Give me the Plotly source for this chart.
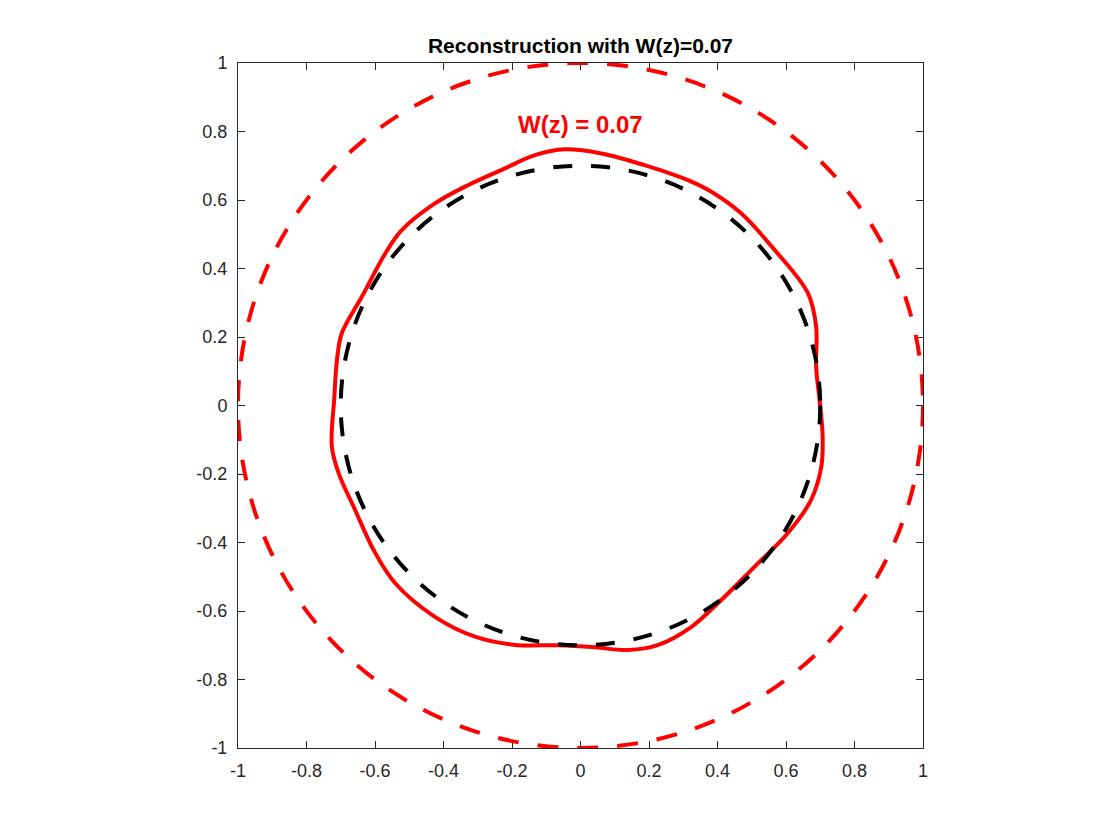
import plotly.graph_objects as go

# reconstructed boundary (counterclockwise from the top)
recon_x = [-0.046, -0.133, -0.230, -0.327, -0.425, -0.522, -0.570, -0.638, -0.697, -0.711,
           -0.719, -0.726, -0.706, -0.658, -0.604, -0.541, -0.425, -0.308, -0.192, -0.065,
           0.042, 0.139, 0.227, 0.324, 0.411, 0.508, 0.605, 0.673, 0.703, 0.707,
           0.698, 0.688, 0.688, 0.664, 0.567, 0.469, 0.382, 0.314, 0.187, 0.061, -0.046]
recon_y = [0.748, 0.731, 0.688, 0.644, 0.590, 0.512, 0.444, 0.318, 0.211, 0.133,
           0.020, -0.120, -0.198, -0.305, -0.422, -0.519, -0.617, -0.675, -0.699, -0.700,
           -0.706, -0.714, -0.699, -0.646, -0.568, -0.471, -0.373, -0.276, -0.179, -0.091,
           0.016, 0.113, 0.230, 0.328, 0.454, 0.561, 0.624, 0.658, 0.702, 0.736, 0.748]

outer_radius = 1.0   # unit circle
true_radius = 0.7    # exact boundary
w_value = 0.07

tick_vals = [-1, -0.8, -0.6, -0.4, -0.2, 0, 0.2, 0.4, 0.6, 0.8, 1]
tick_text = ['-1', '-0.8', '-0.6', '-0.4', '-0.2', '0', '0.2', '0.4', '0.6', '0.8', '1']

fig = go.Figure()
fig.add_trace(go.Scatter(x=recon_x, y=recon_y, mode='lines',
                         line=dict(color='#ff0000', width=4, shape='spline', smoothing=1.0),
                         showlegend=False, hoverinfo='skip'))

# dashed circles
fig.add_shape(type='circle', xref='x', yref='y',
              x0=-outer_radius, y0=-outer_radius, x1=outer_radius, y1=outer_radius,
              line=dict(color='#ff0000', width=4, dash='21px,19px'), layer='above')
fig.add_shape(type='circle', xref='x', yref='y',
              x0=-true_radius, y0=-true_radius, x1=true_radius, y1=true_radius,
              line=dict(color='#000000', width=4, dash='19px,19px'), layer='above')

fig.add_annotation(x=0, y=0.82, xref='x', yref='y', text='<b>W(z) = %g</b>' % w_value,
                   showarrow=False, font=dict(family='Liberation Sans, Arial', size=24, color='#ff0000'))

axis_style = dict(range=[-1, 1], tickmode='array', tickvals=tick_vals, ticktext=tick_text,
                  ticks='inside', ticklen=7, tickwidth=1, tickcolor='#262626',
                  showline=True, linecolor='#262626', linewidth=1, mirror='ticks',
                  showgrid=False, zeroline=False,
                  tickfont=dict(family='Liberation Sans, Arial', size=18, color='#262626'))

fig.update_xaxes(**axis_style, ticklabelstandoff=6)
fig.update_yaxes(**axis_style, ticklabelstandoff=6)

fig.update_layout(
    width=1120, height=840,
    margin=dict(l=230, r=205, t=55, b=100),
    paper_bgcolor='white', plot_bgcolor='white',
    title=dict(text='<b>Reconstruction with W(z)=%g</b>' % w_value,
               x=0.5, xref='paper', y=1 - 38 / 840, yref='container', yanchor='middle',
               font=dict(family='Liberation Sans, Arial', size=21, color='#000000')),
)

fig.write_html('out.html')
